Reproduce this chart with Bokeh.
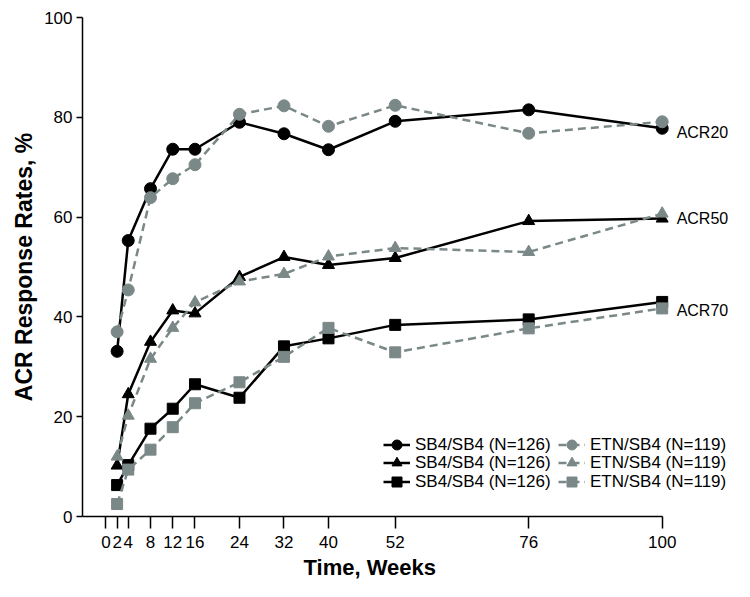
from bokeh.plotting import figure
from bokeh.models import FixedTicker, Legend, LegendItem, Range1d, LabelSet, ColumnDataSource, Title
from bokeh.core.properties import value
from bokeh.embed import file_html
from bokeh.resources import INLINE

# ---- data ----
weeks = [2, 4, 8, 12, 16, 24, 32, 40, 52, 76, 100]
x_ticks = [0, 2, 4, 8, 12, 16, 24, 32, 40, 52, 76, 100]
y_ticks = [0, 20, 40, 60, 80, 100]

sb4_acr20 = [33.1, 55.3, 65.7, 73.6, 73.6, 79.0, 76.7, 73.5, 79.2, 81.5, 77.8]
etn_acr20 = [37.0, 45.4, 63.9, 67.7, 70.5, 80.6, 82.3, 78.2, 82.4, 76.8, 79.1]
sb4_acr50 = [10.2, 24.5, 35.0, 41.3, 40.7, 48.0, 52.0, 50.4, 51.8, 59.2, 59.7]
etn_acr50 = [12.0, 20.2, 31.6, 37.8, 42.9, 47.1, 48.6, 52.1, 53.8, 53.0, 60.7]
sb4_acr70 = [6.3, 10.3, 17.6, 21.6, 26.5, 23.8, 34.1, 35.7, 38.4, 39.5, 43.0]
etn_acr70 = [2.5, 9.4, 13.4, 17.9, 22.7, 26.9, 32.0, 37.8, 32.9, 37.7, 41.7]

endpoint_names = ["ACR20", "ACR50", "ACR70"]
endpoint_label_y = [77.0, 59.8, 41.3]
endpoint_label_x = [102.6, 102.6, 102.6]

sb4_name = "SB4/SB4 (N=126)"
etn_name = "ETN/SB4 (N=119)"
x_title = "Time, Weeks"
y_title = "ACR Response Rates, %"

# ---- style ----
FONT = "Liberation Sans"
BLACK = "#000000"
GREY = "#7b8888"
X_START, X_END = -4.225, 114.44

p = figure(width=742, height=589, output_backend="svg", toolbar_location=None,
           x_range=Range1d(X_START, X_END), y_range=Range1d(0, 100),
           min_border_left=82, min_border_right=0, min_border_top=17,
           min_border_bottom=73)
p.outline_line_color = None
p.xgrid.visible = False
p.ygrid.visible = False
p.background_fill_color = "white"
p.border_fill_color = "white"

for ax in (p.xaxis[0], p.yaxis[0]):
    ax.axis_line_color = BLACK
    ax.axis_line_width = 1.5
    ax.major_tick_line_color = BLACK
    ax.major_tick_line_width = 1.5
    ax.minor_tick_line_color = None
    ax.major_tick_in = 0
    ax.major_label_text_font = FONT
    ax.major_label_text_font_size = "17px"
    ax.major_label_text_color = BLACK
    ax.axis_label_text_font = FONT
    ax.axis_label_text_font_style = "bold"
    ax.axis_label_text_color = BLACK

p.xaxis.ticker = FixedTicker(ticks=x_ticks)
p.xaxis.bounds = (X_START, 100)
p.xaxis.major_tick_out = 12
p.xaxis.major_label_standoff = 7

p.yaxis.ticker = FixedTicker(ticks=y_ticks)
p.yaxis.bounds = (0, 100)
p.yaxis.major_tick_out = 6
p.yaxis.major_label_standoff = 4
p.yaxis.axis_label = y_title
p.yaxis.axis_label_text_font_size = "23px"
p.yaxis.axis_label_standoff = 4

# x-axis title, centred under the drawn axis (0..100) rather than the whole frame
p.add_layout(Title(text=x_title, align="left", offset=221, standoff=8,
                   vertical_align="top", text_font=FONT, text_font_size="22px",
                   text_font_style="bold", text_color=BLACK), "below")

series = [
    ("circle", 12, sb4_acr20, etn_acr20),
    ("triangle", 12, sb4_acr50, etn_acr50),
    ("square", 11, sb4_acr70, etn_acr70),
]

sb4_renderers = []
etn_renderers = []
for marker, size, sb4, etn in series:
    l = p.line(weeks, sb4, line_color=BLACK, line_width=2.5)
    s = p.scatter(weeks, sb4, marker=marker, size=size, fill_color=BLACK, line_color=BLACK)
    sb4_renderers.append((l, s))
for marker, size, sb4, etn in series:
    l = p.line(weeks, etn, line_color=GREY, line_width=2.5, line_dash="8 5")
    s = p.scatter(weeks, etn, marker=marker, size=size, fill_color=GREY, line_color=GREY)
    etn_renderers.append((l, s))

lab_src = ColumnDataSource(data=dict(x=endpoint_label_x, y=endpoint_label_y, text=endpoint_names))
p.add_layout(LabelSet(x="x", y="y", text="text", source=lab_src,
                      text_font=value(FONT), text_font_size=value("16px"),
                      text_color=BLACK,
                      text_baseline="middle", text_align="left"))

# legends: one per entry so the rows can be spaced freely
row_vy = [59, 41, 22]
col_vx = [301, 476]
for ci, (name, rends) in enumerate([(sb4_name, sb4_renderers), (etn_name, etn_renderers)]):
    for ri, (l, s) in enumerate(rends):
        leg = Legend(items=[LegendItem(label=name, renderers=[l, s])],
                     location=(col_vx[ci], row_vy[ri]),
                     padding=0, margin=0, spacing=0,
                     glyph_width=27, glyph_height=25, label_height=18,
                     label_standoff=5,
                     label_text_font=FONT, label_text_font_size="17px",
                     label_text_color=BLACK,
                     background_fill_alpha=0, border_line_alpha=0)
        p.add_layout(leg)

open("out.html", "w").write(file_html(p, INLINE))
